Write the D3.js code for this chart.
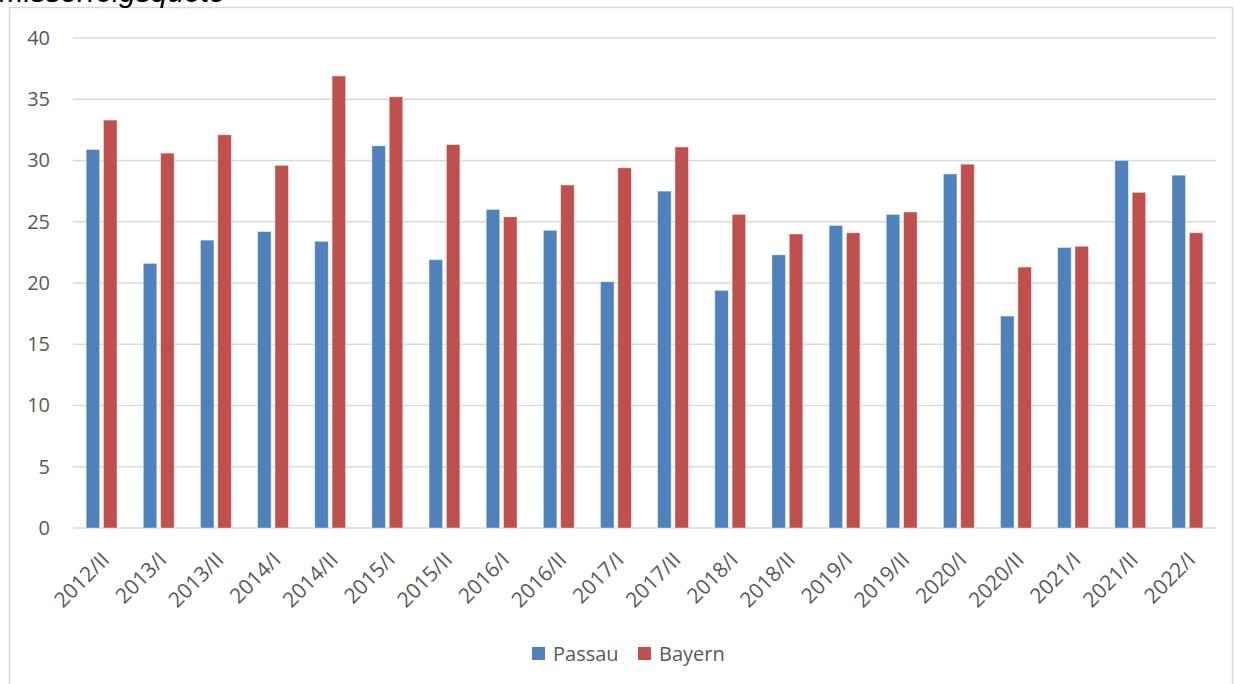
<!DOCTYPE html>
<html>
<head>
<meta charset="utf-8">
<title>Misserfolgsquote</title>
<script src="https://d3js.org/d3.v7.min.js"></script>
<style>
body{ margin:0; background:#fff; }
.tick text{ fill:#595959; font-family:"Open Sans", sans-serif; font-size:20px; }
</style>
</head>
<body>
<svg class="chart"></svg>
<script>
//data
var categories = ["2012/II","2013/I","2013/II","2014/I","2014/II","2015/I","2015/II","2016/I","2016/II","2017/I",
                  "2017/II","2018/I","2018/II","2019/I","2019/II","2020/I","2020/II","2021/I","2021/II","2022/I"];
var passau = [30.9,21.6,23.5,24.2,23.4,31.2,21.9,26.0,24.3,20.1,27.5,19.4,22.3,24.7,25.6,28.9,17.3,22.9,30.0,28.8];
var bayern = [33.3,30.6,32.1,29.6,36.9,35.2,31.3,25.4,28.0,29.4,31.1,25.6,24.0,24.1,25.8,29.7,21.3,23.0,27.4,24.1];
var seriesNames = ["Passau","Bayern"];
var yTicks = [0,5,10,15,20,25,30,35,40];

var colors = {Passau:"#4f81bd", Bayern:"#c0504d"};

var W = 1234, H = 684;
var margin = {top:38, left:73, right:18, bottom:156};
var width = W - margin.left - margin.right;
var height = H - margin.top - margin.bottom;

var svg = d3.select(".chart").attr("width", W).attr("height", H);

//outer frame
svg.append("rect")
  .attr("x", 9.5).attr("y", 7.5)
  .attr("width", W - 11).attr("height", H)
  .attr("fill", "none").attr("stroke", "#d9d9d9").attr("stroke-width", 1.5);

//title, cut off by top edge
svg.append("text")
  .attr("x", -1).attr("y", 2)
  .style("font-family", "'Liberation Sans', Arial, sans-serif")
  .style("font-style", "italic")
  .style("font-size", "30px")
  .attr("fill", "#000")
  .text("Misserfolgsquote");

var chart = svg.append("g")
  .attr("transform", "translate(" + margin.left + "," + margin.top + ")");

var x0 = d3.scaleBand().domain(categories).range([0, width]).paddingInner(0.46).paddingOuter(0.23);
var x1 = d3.scaleBand().domain(seriesNames).range([0, x0.bandwidth()]).paddingInner(0.22);
var y = d3.scaleLinear().domain([0, 40]).range([height, 0]);

//gridlines
chart.append("g")
  .selectAll("line")
  .data(yTicks)
  .enter().append("line")
  .attr("x1", 0).attr("x2", width)
  .attr("y1", function(d){ return y(d); })
  .attr("y2", function(d){ return y(d); })
  .attr("stroke", "#d9d9d9").attr("stroke-width", 1.5);

//left axis labels only
var yAxis = chart.append("g")
  .call(d3.axisLeft(y).tickValues(yTicks).tickSize(0).tickPadding(23));
yAxis.select(".domain").remove();

//bars
var rows = categories.map(function(c, i){
  return {cat:c, vals:[{s:"Passau", v:passau[i]}, {s:"Bayern", v:bayern[i]}]};
});

var groups = chart.selectAll(".grp")
  .data(rows)
  .enter().append("g")
  .attr("class", "grp")
  .attr("transform", function(d){ return "translate(" + x0(d.cat) + ",0)"; });

groups.selectAll("rect")
  .data(function(d){ return d.vals; })
  .enter().append("rect")
  .attr("x", function(d){ return x1(d.s); })
  .attr("y", function(d){ return y(d.v); })
  .attr("width", x1.bandwidth())
  .attr("height", function(d){ return height - y(d.v); })
  .attr("fill", function(d){ return colors[d.s]; })
  .attr("stroke", "#fff").attr("stroke-opacity", 0.5).attr("stroke-width", 0.8);

//bottom axis
var xScaleAxis = d3.scaleBand().domain(categories).range([0, width]);
var xAxis = chart.append("g")
  .attr("transform", "translate(0," + height + ")")
  .call(d3.axisBottom(xScaleAxis).tickSize(0));
xAxis.select(".domain").remove();
xAxis.selectAll("text")
  .style("text-anchor", "end")
  .style("font-size", "21px")
  .attr("dx", "0")
  .attr("dy", "0")
  .attr("transform", "translate(7,31) rotate(-45)");

//legend
var legend = svg.append("g").attr("transform", "translate(532,647)");
var lx = [0, 106];
seriesNames.forEach(function(s, i){
  legend.append("rect")
    .attr("x", lx[i]).attr("y", 0)
    .attr("width", 13).attr("height", 13)
    .attr("fill", colors[s]);
  legend.append("text")
    .attr("x", lx[i] + 21).attr("y", 14)
    .attr("fill", "#595959")
    .style("font-family", "'Open Sans', sans-serif")
    .style("font-size", "20px")
    .text(s);
});
</script>
</body>
</html>
